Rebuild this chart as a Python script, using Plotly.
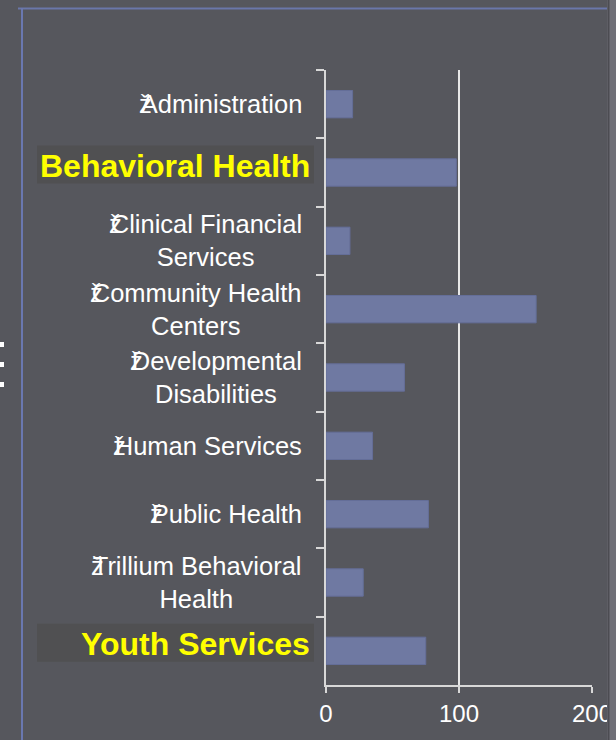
import plotly.graph_objects as go

categories = [
    "Administration",
    "Behavioral Health",
    "Clinical Financial Services",
    "Community Health Centers",
    "Developmental Disabilities",
    "Human Services",
    "Public Health",
    "Trillium Behavioral Health",
    "Youth Services",
]
values = [20, 98, 18, 158, 59, 35, 77, 28, 75]
label_lines = [
    ["Administration"],
    ["Behavioral Health"],
    ["Clinical Financial", "Services"],
    ["Community Health", "Centers"],
    ["Developmental", "Disabilities"],
    ["Human Services"],
    ["Public Health"],
    ["Trillium Behavioral", "Health"],
    ["Youth Services"],
]
highlighted = ["Behavioral Health", "Youth Services"]
bullet_glyph = "ž"
x_ticks = [0, 100, 200]

W, H = 616, 740
ML, MR, MT, MB = 326, 24, 70, 55
PW, PH = W - ML - MR, H - MT - MB


def px(x):
    return (x - ML) / PW


def py(y):
    return 1 - (y - MT) / PH


BG = "#56575d"
BAR = "#6f79a2"
FONT = "Liberation Sans, Arial, sans-serif"
REG = 25.5
BOLD = 32

fig = go.Figure(
    go.Bar(
        y=categories,
        x=values,
        orientation="h",
        marker=dict(color=BAR, line=dict(color="#646e98", width=1)),
    )
)


def first_line(line):
    return (f'<span style="letter-spacing:-11px">{bullet_glyph}</span>'
            f"{line}")


annotations = []
for cat, lines in zip(categories, label_lines):
    hl = cat in highlighted
    if hl:
        annotations.append(dict(
            x=px(312), xref="paper", y=cat, yref="y",
            xanchor="right", yanchor="middle", yshift=7,
            text=f"<b>{lines[0]}</b>", showarrow=False,
            font=dict(family=FONT, size=BOLD, color="#ffff00")))
        continue
    annotations.append(dict(
        x=px(304), xref="paper", y=cat, yref="y",
        xanchor="right", yanchor="middle", align="center",
        text="<br>".join([first_line(lines[0])] + lines[1:]),
        showarrow=False,
        font=dict(family=FONT, size=REG, color="#ffffff")))

shapes = []
# highlight boxes behind the bold labels
for cat in highlighted:
    idx = categories.index(cat)
    cy = MT + (idx + 0.5) * PH / len(categories)
    shapes.append(dict(type="rect", xref="paper", yref="paper",
                       x0=px(37), x1=px(314), y0=py(cy - 27), y1=py(cy + 11),
                       fillcolor="#505052", line=dict(width=0), layer="below"))
# frame lines
shapes.append(dict(type="line", xref="paper", yref="paper",
                   x0=px(18), x1=px(609), y0=py(8.5), y1=py(8.5),
                   line=dict(color="#6a77aa", width=2)))
shapes.append(dict(type="line", xref="paper", yref="paper",
                   x0=px(22), x1=px(22), y0=py(8), y1=py(740),
                   line=dict(color="#6a78b0", width=2)))
# right edge stripe
shapes.append(dict(type="rect", xref="paper", yref="paper",
                   x0=px(607), x1=px(616), y0=py(0), y1=py(740),
                   fillcolor="#707078", line=dict(width=0)))
shapes.append(dict(type="line", xref="paper", yref="paper",
                   x0=px(608.5), x1=px(608.5), y0=py(0), y1=py(740),
                   line=dict(color="#4c4c52", width=2)))
# cropped glyph fragments at left edge
for yy in (342, 362, 382):
    shapes.append(dict(type="rect", xref="paper", yref="paper",
                       x0=px(0), x1=px(4), y0=py(yy), y1=py(yy + 5),
                       fillcolor="#ffffff", line=dict(width=0)))

fig.update_layout(
    width=W,
    height=H,
    autosize=False,
    margin=dict(l=ML, r=MR, t=MT, b=MB, autoexpand=False),
    paper_bgcolor=BG,
    plot_bgcolor=BG,
    showlegend=False,
    bargap=0.6,
    annotations=annotations,
    shapes=shapes,
    xaxis=dict(
        range=[0, 200],
        tickvals=x_ticks,
        ticktext=[str(v) for v in x_ticks],
        showgrid=True,
        gridcolor="#e8e8e8",
        gridwidth=2,
        zeroline=False,
        showline=True,
        linecolor="#d8d8d8",
        linewidth=2,
        ticks="outside",
        ticklen=6,
        tickwidth=2,
        tickcolor="#d8d8d8",
        tickfont=dict(family=FONT, size=24, color="#ffffff"),
        automargin=False,
        fixedrange=True,
    ),
    yaxis=dict(
        type="category",
        categoryorder="array",
        categoryarray=categories,
        autorange="reversed",
        showgrid=False,
        zeroline=False,
        showline=True,
        linecolor="#d8d8d8",
        linewidth=2,
        ticks="outside",
        tickson="boundaries",
        ticklen=8,
        tickwidth=2,
        tickcolor="#d8d8d8",
        showticklabels=False,
        automargin=False,
        fixedrange=True,
    ),
)

fig.write_html(
    "out.html",
    config={"displayModeBar": False, "responsive": False},
    post_script="document.body.style.margin='0';document.body.style.overflow='hidden';",
)
